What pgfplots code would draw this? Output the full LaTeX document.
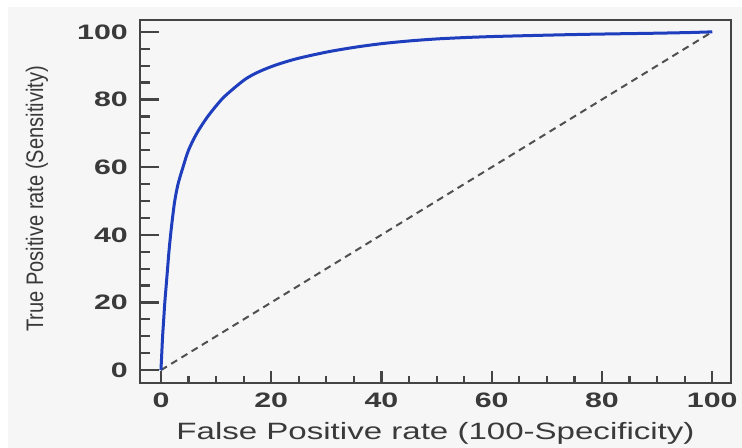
\documentclass[border=0pt]{standalone}
\usepackage{pgfplots}
\pgfplotsset{compat=1.18}
\usepackage{fontspec}
\setmainfont{Liberation Sans}
\definecolor{panel}{HTML}{F6F6F6}
\definecolor{axisgray}{HTML}{444444}
\definecolor{tickgray}{HTML}{3A3A3A}
\definecolor{rocblue}{RGB}{30,62,190}
\definecolor{dashgray}{HTML}{505050}
\begin{document}
\begin{tikzpicture}
\fill[white] (0bp,0bp) rectangle (742bp,448bp);
\fill[panel] (8bp,0bp) rectangle (742bp,441bp);
\begin{axis}[
  at={(140bp,65bp)}, anchor=south west,
  scale only axis, width=591bp, height=363bp,
  xmin=-3.8, xmax=103.4, ymin=-3.8, ymax=103.5,
  xtick={0,20,...,100}, ytick={0,20,...,100},
  tick pos=left, tick align=inside,
  major tick length=0pt, minor tick length=0pt,
  axis line style={draw=axisgray, line width=2.5bp},
  xticklabel={\scalebox{1.45}[1]{\pgfmathprintnumber{\tick}}},
  yticklabel={\scalebox{1.45}[1]{\pgfmathprintnumber{\tick}}},
  /pgf/number format/assume math mode=true,
  xticklabel style={font=\fontsize{21}{21}\selectfont\bfseries, text=tickgray, anchor=north, inner sep=0pt, yshift=-10bp},
  yticklabel style={font=\fontsize{21}{21}\selectfont\bfseries, text=tickgray, anchor=east, inner sep=0pt, xshift=-12bp},
  xlabel={\scalebox{1.4}[1]{False Positive rate (100-Specificity)}},
  ylabel={\scalebox{0.84}[1]{True Positive rate (Sensitivity)}},
  xlabel style={font=\fontsize{23.7}{24}\selectfont, text=tickgray, anchor=north, inner sep=0pt, at={(axis description cs:0.5,0)}, yshift=-39bp},
  ylabel style={font=\fontsize{24}{24}\selectfont, text=tickgray, anchor=center, inner sep=0pt, at={(axis description cs:-0.1743,0.507)}},
  clip=false,
]
\pgfplotsinvokeforeach{0,20,40,60,80,100}{
  \draw[axisgray, line width=2.2bp] (axis cs:#1,-3.8) -- (axis cs:#1,-0.25);
  \draw[axisgray, line width=2.2bp] (axis cs:-3.8,#1) -- (axis cs:-0.35,#1);
}
\pgfplotsinvokeforeach{5,10,15,25,30,35,45,50,55,65,70,75,85,90,95}{
  \draw[axisgray, line width=2.2bp] (axis cs:#1,-3.8) -- (axis cs:#1,-1.73);
  \draw[axisgray, line width=2.2bp] (axis cs:-3.8,#1) -- (axis cs:-1.99,#1);
}
\addplot[dashgray, line width=2bp, dash pattern=on 7bp off 5bp] coordinates {(0,0) (100,100)};
\addplot[rocblue, line width=3bp, smooth, tension=0.5] coordinates {
(0,0) (0.15,5) (0.3,10) (0.5,15) (0.7,20) (0.95,25) (1.2,30) (1.45,35) (1.75,40) (2.1,45) (2.5,50) (3.1,55) (4.0,60) (5.0,65) (6.5,70) (8.5,75) (11.0,80) (13.0,83) (15.3,86) (17.5,88) (20.5,90) (24.5,92) (30,94) (35,95.4) (40,96.5) (45,97.3) (50,97.9) (55,98.3) (60,98.6) (67,98.9) (75,99.2) (82,99.4) (90,99.6) (96,99.8) (100,100)
};
\end{axis}
\end{tikzpicture}
\end{document}
